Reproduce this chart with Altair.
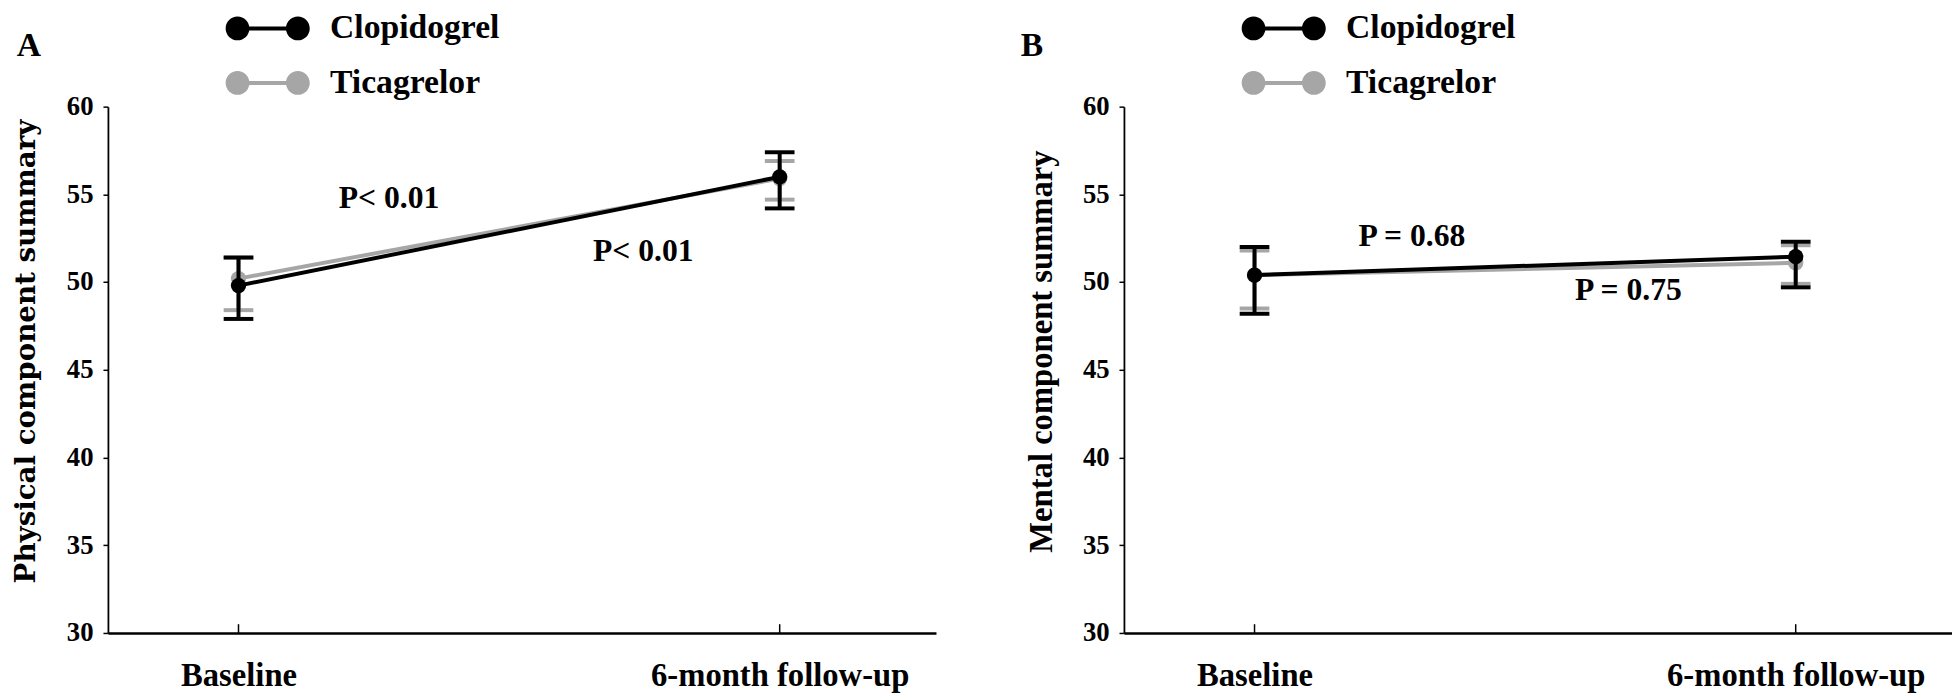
import altair as alt
import pandas as pd

# ---------------- data ----------------
time_labels = ["Baseline", "6-month follow-up"]
time_index = [0, 1]
series_names = ["Clopidogrel", "Ticagrelor"]
series_colors = ["#000000", "#A6A6A6"]

# Panel A: Physical component summary
pcs_clop_mean = [49.8, 56.0]
pcs_clop_low = [47.9, 54.2]
pcs_clop_high = [51.4, 57.4]
pcs_tica_mean = [50.2, 55.9]
pcs_tica_low = [48.4, 54.7]
pcs_tica_high = [51.4, 56.9]

# Panel B: Mental component summary
mcs_clop_mean = [50.4, 51.45]
mcs_clop_low = [48.2, 49.7]
mcs_clop_high = [52.0, 52.3]
mcs_tica_mean = [50.4, 51.1]
mcs_tica_low = [48.5, 49.9]
mcs_tica_high = [51.8, 52.1]

# P-value annotations (x in time-index units, y in score units)
pcs_p_text = ["P< 0.01", "P< 0.01"]
pcs_p_x = [0.278, 0.748]
pcs_p_y = [54.24, 51.19]
mcs_p_text = ["P = 0.68", "P = 0.75"]
mcs_p_x = [0.291, 0.691]
mcs_p_y = [52.08, 48.99]

y_ticks = [30, 35, 40, 45, 50, 55, 60]
panel_labels = ["A", "B"]

# ---------------- styling ----------------
SERIF = "Liberation Serif"
W, H = 837, 532
X_DOMAIN = [-0.2413, 1.2888]
# legend glyph: two dots joined by a bar; unit = 16px (symbolSize 32^2), glyph overflows the unit box
LEGEND_PATH = ("M -2.656 0 A 0.75 0.75 0 1 0 -1.156 0 A 0.75 0.75 0 1 0 -2.656 0 Z "
               "M 1.156 0 A 0.75 0.75 0 1 0 2.656 0 A 0.75 0.75 0 1 0 1.156 0 Z "
               "M -1.6 -0.125 L -1.6 0.125 L 1.6 0.125 L 1.6 -0.125 Z")

label_expr = "[" + ",".join("'" + s + "'" for s in time_labels) + "][datum.value]"


def series_frame(name, mean, low, high):
    return pd.DataFrame({"t": time_index, "series": name, "mean": mean, "low": low, "high": high})


def panel(title, title_font, title_size, title_pad, frames, p_text, p_x, p_y, letter, letter_x):
    x_scale = alt.Scale(domain=X_DOMAIN, nice=False, zero=False)
    y_scale = alt.Scale(domain=[30, 60], nice=False, zero=False)
    color_scale = alt.Scale(domain=series_names, range=series_colors)

    x_axis = alt.Axis(values=time_index, labelExpr=label_expr, ticks=False, grid=False,
                      title=None, labelFont=SERIF, labelFontSize=33, labelFontWeight="bold",
                      labelColor="black", labelPadding=27, domainColor="black", domainWidth=2.5,
                      labelAngle=0, labelLimit=0)
    y_axis = alt.Axis(values=y_ticks, grid=False, title=title, titleFont=title_font,
                      titleFontSize=title_size, titleFontWeight="bold", titleColor="black",
                      titlePadding=title_pad, titleY=247,
                      labelFont=SERIF, labelFontSize=27, labelFontWeight="bold", labelColor="black",
                      labelPadding=10, tickSize=5, tickWidth=1.5, tickColor="black",
                      domainColor="black", domainWidth=1.8)

    legend = alt.Legend(orient="none", legendX=144.5, legendY=-96, title=None,
                        symbolType=LEGEND_PATH, symbolSize=1024, symbolStrokeWidth=0,
                        symbolOpacity=1, labelFont=SERIF, labelFontSize=34, labelFontWeight="bold",
                        labelColor="black", labelOffset=46, rowPadding=21, padding=0, offset=0,
                        labelLimit=0)

    x = alt.X("t:Q", scale=x_scale, axis=x_axis)
    layers = []

    # inward x-axis ticks
    ticks_df = pd.DataFrame({"t": time_index})
    layers.append(alt.Chart(ticks_df).mark_rule(color="black", strokeWidth=1.5).encode(
        x=x, y=alt.datum(30, scale=y_scale, axis=y_axis), y2=alt.datum(30.5)))

    # draw Ticagrelor first, Clopidogrel on top
    for df, col in frames:
        base = alt.Chart(df)
        c = alt.value(col)
        layers.append(base.mark_line(strokeWidth=4).encode(
            x=x, y=alt.Y("mean:Q", scale=y_scale, axis=y_axis), color=c))
        layers.append(base.mark_rule(strokeWidth=4).encode(
            x=x, y=alt.Y("low:Q", scale=y_scale, axis=y_axis), y2="high:Q", color=c))
        layers.append(base.mark_tick(orient="horizontal", size=30, thickness=4, opacity=1).encode(
            x=x, y=alt.Y("low:Q", scale=y_scale, axis=y_axis), color=c))
        layers.append(base.mark_tick(orient="horizontal", size=30, thickness=4, opacity=1).encode(
            x=x, y=alt.Y("high:Q", scale=y_scale, axis=y_axis), color=c))
        layers.append(base.mark_circle(size=240, opacity=1).encode(
            x=x, y=alt.Y("mean:Q", scale=y_scale, axis=y_axis),
            color=alt.Color("series:N", scale=color_scale, legend=legend)))

    p_df = pd.DataFrame({"x": p_x, "y": p_y, "label": p_text})
    layers.append(alt.Chart(p_df).mark_text(font=SERIF, fontSize=32, fontWeight="bold",
                                            color="black", align="center", baseline="alphabetic").encode(
        x=alt.X("x:Q", scale=x_scale, axis=x_axis),
        y=alt.Y("y:Q", scale=y_scale, axis=y_axis), text="label:N"))

    lab_df = pd.DataFrame({"label": [letter]})
    layers.append(alt.Chart(lab_df).mark_text(font=SERIF, fontSize=34, fontWeight="bold",
                                              color="black", align="center", baseline="alphabetic").encode(
        x=alt.value(letter_x), y=alt.value(-51), text="label:N"))

    return alt.layer(*layers).properties(width=W, height=H)


clop_a = series_frame(series_names[0], pcs_clop_mean, pcs_clop_low, pcs_clop_high)
tica_a = series_frame(series_names[1], pcs_tica_mean, pcs_tica_low, pcs_tica_high)
clop_b = series_frame(series_names[0], mcs_clop_mean, mcs_clop_low, mcs_clop_high)
tica_b = series_frame(series_names[1], mcs_tica_mean, mcs_tica_low, mcs_tica_high)

frames_a = [(tica_a, series_colors[1]), (clop_a, series_colors[0])]
frames_b = [(tica_b, series_colors[1]), (clop_b, series_colors[0])]

panel_a = panel("Physical component summary", "DejaVu Serif", 28, 26, frames_a,
                pcs_p_text, pcs_p_x, pcs_p_y, panel_labels[0], -80)
panel_b = panel("Mental component summary", SERIF, 33, 24, frames_b,
                mcs_p_text, mcs_p_x, mcs_p_y, panel_labels[1], -93)

chart = alt.hconcat(panel_a, panel_b, spacing=85).resolve_legend(color="independent").configure_view(
    stroke=None).properties(padding={"left": 4, "top": 0, "right": 0, "bottom": 0}, background="white")

chart.save("out.html", embed_options={"renderer": "svg", "actions": False})
